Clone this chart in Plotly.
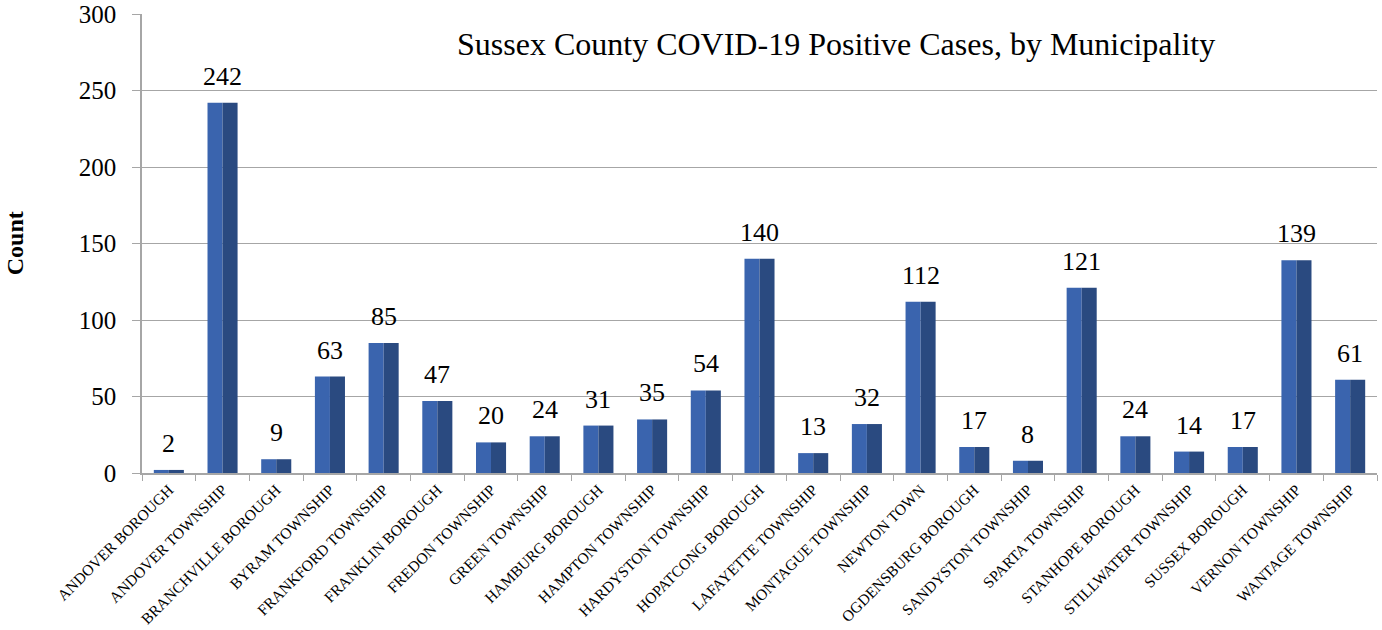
import plotly.graph_objects as go

municipalities = [
    "ANDOVER BOROUGH", "ANDOVER TOWNSHIP", "BRANCHVILLE BOROUGH", "BYRAM TOWNSHIP",
    "FRANKFORD TOWNSHIP", "FRANKLIN BOROUGH", "FREDON TOWNSHIP", "GREEN TOWNSHIP",
    "HAMBURG BOROUGH", "HAMPTON TOWNSHIP", "HARDYSTON TOWNSHIP", "HOPATCONG BOROUGH",
    "LAFAYETTE TOWNSHIP", "MONTAGUE TOWNSHIP", "NEWTON TOWN", "OGDENSBURG BOROUGH",
    "SANDYSTON TOWNSHIP", "SPARTA TOWNSHIP", "STANHOPE BOROUGH", "STILLWATER TOWNSHIP",
    "SUSSEX BOROUGH", "VERNON TOWNSHIP", "WANTAGE TOWNSHIP",
]
cases = [2, 242, 9, 63, 85, 47, 20, 24, 31, 35, 54, 140, 13, 32, 112, 17, 8, 121, 24, 14, 17, 139, 61]
y_ticks = [0, 50, 100, 150, 200, 250, 300]

serif = "Liberation Serif"

fig = go.Figure()
# left (lighter) half of bevelled bar
fig.add_trace(go.Bar(
    x=municipalities, y=cases, width=0.28, offset=-0.28,
    marker=dict(color="#3A64AE", line=dict(width=0)),
    hoverinfo="x+y", showlegend=False,
))
# right (darker) half
fig.add_trace(go.Bar(
    x=municipalities, y=cases, width=0.28, offset=0.0,
    marker=dict(color="#2A4A80", line=dict(width=0)),
    hoverinfo="skip", showlegend=False,
))

for m, v in zip(municipalities, cases):
    fig.add_annotation(
        x=m, y=v, text=str(v), showarrow=False, yanchor="bottom", yshift=10,
        font=dict(family=serif, size=26, color="black"),
    )

fig.add_annotation(
    x=0.562, y=0.934, xref="paper", yref="paper", showarrow=False,
    xanchor="center", yanchor="middle",
    text="Sussex County COVID-19 Positive Cases, by Municipality",
    font=dict(family=serif, size=32, color="black"),
)

fig.add_annotation(
    x=-0.103, y=0.5, xref="paper", yref="paper", showarrow=False,
    xanchor="center", yanchor="middle", textangle=-90,
    text="<b>Count</b>",
    font=dict(family=serif, size=24, color="black"),
)

fig.update_layout(
    width=1382, height=630,
    margin=dict(l=142, r=5, t=14, b=157),
    plot_bgcolor="white", paper_bgcolor="white",
    barmode="overlay", bargap=0.44,
    font=dict(family=serif, color="black"),
    xaxis=dict(
        type="category", tickangle=-45, tickfont=dict(family=serif, size=15.5),
        showline=True, linecolor="#A6A6A6", linewidth=1.5,
        ticks="outside", tickson="boundaries", ticklen=6, tickcolor="#A6A6A6",
        showgrid=False, automargin=False,
    ),
    yaxis=dict(
        range=[0, 300], tickvals=y_ticks, tickfont=dict(family=serif, size=25),
        showline=True, linecolor="#A6A6A6", linewidth=1.5,
        ticks="outside", ticklen=8, tickcolor="#A6A6A6", ticklabelstandoff=11,
        showgrid=True, gridcolor="#A6A6A6", gridwidth=1.2, zeroline=False,
        automargin=False,
    ),
)

fig.write_html("out.html", config={"displayModeBar": False},
               post_script="document.body.style.margin='0';")
